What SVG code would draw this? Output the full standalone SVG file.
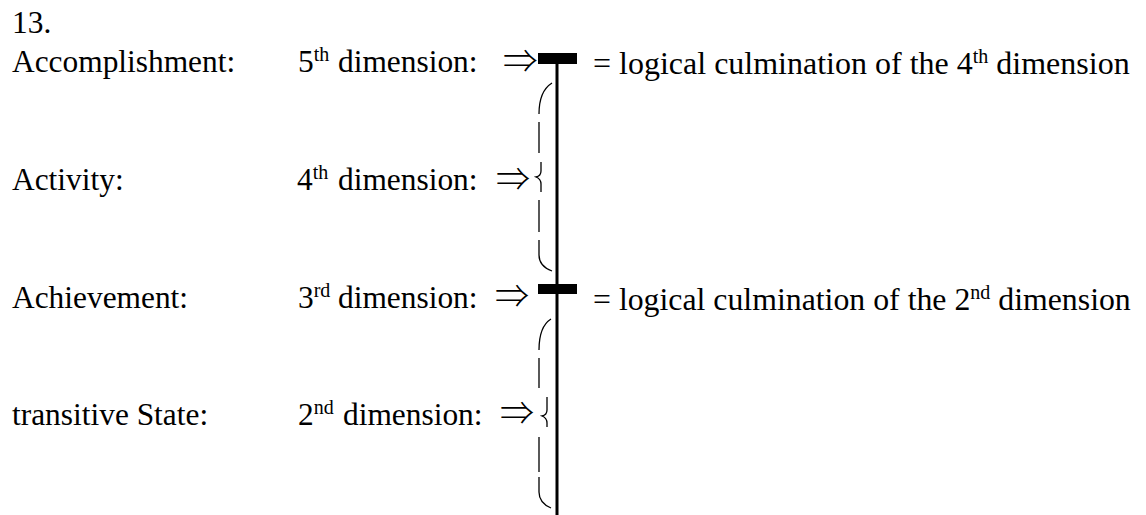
<svg xmlns="http://www.w3.org/2000/svg" width="1146" height="515" viewBox="0 0 1146 515">
<style>
text{font-family:"Liberation Serif","DejaVu Serif",serif;font-size:31.4px;fill:#000}
.sup{font-size:20px}
.rt{font-size:32px}
.rt2{font-size:31.8px}
.arr{font-family:"Noto Sans CJK JP","DejaVu Sans",sans-serif;font-weight:300;font-size:31px}
.axis{stroke:#000;stroke-width:3;fill:none}
.brace{stroke:#000;stroke-width:1.3;fill:none}
</style>
<rect width="1146" height="515" fill="#fff"/>
<text x="12" y="33">13.</text>
<g id="row-accomplishment">
<text x="12" y="72">Accomplishment:</text>
<text x="298" y="72">5<tspan class="sup" dy="-11">th</tspan><tspan dy="11" x="338">dimension:</tspan></text>
<text class="arr" transform="translate(503,73) scale(1.12,1.05)">⇒</text>
<text class="rt" x="593" y="74">= logical culmination of the 4<tspan class="sup" dy="-11">th</tspan><tspan dy="11"> dimension</tspan></text>
</g>
<g id="row-activity">
<text x="12" y="190">Activity:</text>
<text x="297" y="190">4<tspan class="sup" dy="-11">th</tspan><tspan dy="11" x="338">dimension:</tspan></text>
<text class="arr" transform="translate(496,191) scale(1.1,1.05)">⇒</text>
</g>
<g id="row-achievement">
<text x="12" y="308">Achievement:</text>
<text x="298" y="308">3<tspan class="sup" dy="-11">rd</tspan><tspan dy="11" x="338">dimension:</tspan></text>
<text class="arr" transform="translate(495,308) scale(1.1,1.05)">⇒</text>
<text class="rt rt2" x="593" y="310">= logical culmination of the 2<tspan class="sup" dy="-11">nd</tspan><tspan dy="11"> dimension</tspan></text>
</g>
<g id="row-state">
<text x="12" y="425">transitive State:</text>
<text x="298" y="425">2<tspan class="sup" dy="-11">nd</tspan><tspan dy="11" x="343">dimension:</tspan></text>
<text class="arr" transform="translate(500,425) scale(1.1,1.05)">⇒</text>
</g>
<g id="connectors">
<line class="axis" x1="557" y1="53" x2="557" y2="515"/>
<rect x="538" y="53" width="39" height="11" fill="#000"/>
<rect x="538" y="284" width="39" height="10" fill="#000"/>
<path class="brace" d="M552,83 C544,88 539,97 539,114 M539,122 L539,153 M541,162 L541,171 Q541,176 536,177 Q541,179 541,184 L541,192 M539,200 L539,232 M539,240 L539,255 C539,263 544,268 552,271"/>
<path class="brace" d="M551,319 C543,324 539,333 539,350 M539,358 L539,388 M547,397 L547,410 Q547,415 542,416 Q547,418 547,423 L547,427 M539,437 L539,472 M539,477 L539,492 C539,500 544,505 551,508"/>
</g>
</svg>
